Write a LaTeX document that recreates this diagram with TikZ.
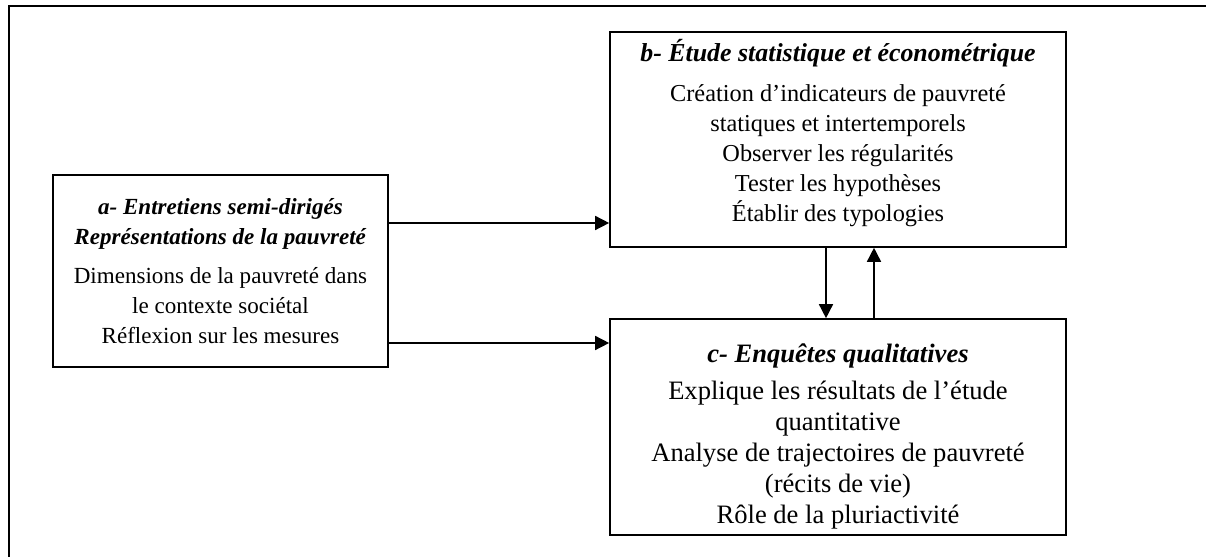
\documentclass[tikz,border=0pt]{standalone}
\usepackage{fontspec}
\setmainfont{Liberation Serif}
\usepackage{tikz}
\usetikzlibrary{arrows.meta,calc}

\tikzset{
	boite/.style={draw,line width=1.1pt,align=center,inner sep=0pt},
	fleche/.style={line width=1.1pt,-{Triangle[length=10pt,width=10pt]}},
	cadre/.style={line width=1.5pt}
}
\newcommand{\titre}[1]{\textbf{\textit{#1}}}

\begin{document}
\begin{tikzpicture}[x=0.025cm,y=0.025cm]

	%Define the page, same size as the scan (1 unit = 1 pixel)
	\useasboundingbox (0,0) rectangle (1206,557);

	%Frame only on the left and at the top
	\draw[cadre] (9,0) -- (9,551) -- (1206,551);

	%Heights of the arrows a->b and a->c, abscissas of the arrows b<->c
	\pgfmathsetmacro{\yab}{334}
	\pgfmathsetmacro{\yac}{214}
	\pgfmathsetmacro{\xdown}{826}
	\pgfmathsetmacro{\xup}{874}

	%The three boxes
	\node[boite,minimum width=8.375cm,minimum height=4.8cm,
		font=\fontsize{16.4}{21.3}\selectfont] (boxA) at (220.5,286)
		{\titre{a- Entretiens semi-dirigés}\\
		 \titre{Représentations de la pauvreté}\\[6pt]
		 Dimensions de la pauvreté dans\\
		 le contexte sociétal\\
		 Réflexion sur les mesures};

	\node[boite,minimum width=11.4cm,minimum height=5.375cm,
		font=\fontsize{17.3}{21.3}\selectfont] (boxB) at (838,417.5)
		{{\fontsize{18.4}{21.3}\selectfont\titre{b- Étude statistique et économétrique}}\\[7pt]
		 Création d’indicateurs de pauvreté\\
		 statiques et intertemporels\\
		 Observer les régularités\\
		 Tester les hypothèses\\
		 Établir des typologies\\[-8pt]\mbox{}};

	\node[boite,minimum width=11.4cm,minimum height=5.4cm,
		font=\fontsize{18.9}{22}\selectfont] (boxC) at (838,130)
		{\rule{0pt}{27pt}\titre{c- Enquêtes qualitatives}\\[4pt]
		 Explique les résultats de l’étude\\
		 quantitative\\
		 Analyse de trajectoires de pauvreté\\
		 (récits de vie)\\
		 Rôle de la pluriactivité};

	%Arrows
	\coordinate (ab) at (0,\yab);
	\coordinate (ac) at (0,\yac);
	\coordinate (cdown) at (\xdown,0);
	\coordinate (cup) at (\xup,0);

	\draw[fleche] (boxA.east |- ab) -- (boxB.west |- ab);
	\draw[fleche] (boxA.east |- ac) -- (boxC.west |- ac);
	\draw[fleche] (boxB.south -| cdown) -- (boxC.north -| cdown);
	\draw[fleche] (boxC.north -| cup) -- (boxB.south -| cup);

\end{tikzpicture}
\end{document}
